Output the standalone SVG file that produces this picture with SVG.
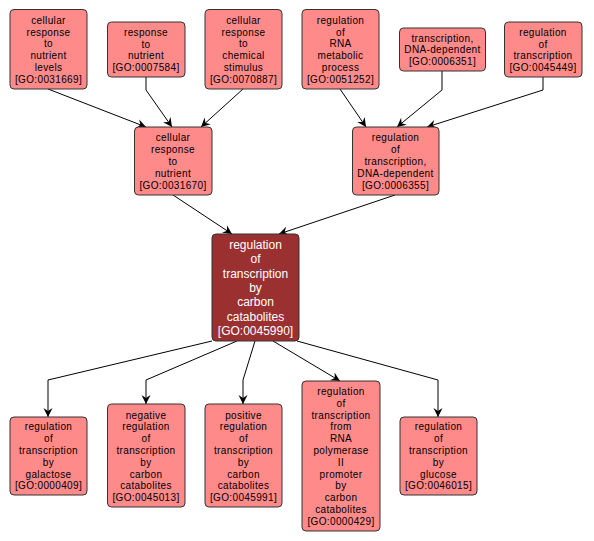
<svg xmlns="http://www.w3.org/2000/svg" width="594" height="541" viewBox="0 0 594 541">
<defs>
<marker id="arr" markerUnits="userSpaceOnUse" markerWidth="12" markerHeight="12" viewBox="-10 -6 12 12" refX="0" refY="0" orient="auto">
<path d="M0,0 L-9,-4.5 L-6,0 L-9,4.5 z" fill="#000"/>
</marker>
<style>
.n rect{fill:#ff8a8a;stroke:#333;stroke-width:1}
.n text{font-family:"Liberation Sans",Arial,sans-serif;font-size:10px;letter-spacing:0.35px;fill:#000;text-anchor:middle}
.c rect{fill:#9b3030;stroke:#333;stroke-width:1}
.c text{font-family:"Liberation Sans",Arial,sans-serif;font-size:12px;fill:#fff;text-anchor:middle}
#edges polyline{fill:none;stroke:#000;stroke-width:1;marker-end:url(#arr)}
</style>
</defs>
<rect width="594" height="541" fill="#fff"/>
<g id="edges">
<polyline points="48,89 146,127"/>
<polyline points="146,77 146,90 172,127"/>
<polyline points="243,89 201,127"/>
<polyline points="340,89 366,127"/>
<polyline points="442,71 442,90 397,127"/>
<polyline points="543,77 543,90 427,127"/>
<polyline points="173,195 232,234"/>
<polyline points="395,195 279,234"/>
<polyline points="212,341 48,380 48,417"/>
<polyline points="237,341 146,380 146,404"/>
<polyline points="255,341 243,380 243,404"/>
<polyline points="273,341 340,381"/>
<polyline points="297,341 438,380 438,417"/>
</g>
<g id="GO0031669" class="n"><rect x="10" y="9.5" width="77" height="79.5" rx="4"/>
<text x="48.5"><tspan x="48.5" y="23.8">cellular</tspan><tspan x="48.5" y="35.6">response</tspan><tspan x="48.5" y="47.4">to</tspan><tspan x="48.5" y="59.2">nutrient</tspan><tspan x="48.5" y="71">levels</tspan><tspan x="48.5" y="82.8">[GO:0031669]</tspan></text></g>
<g id="GO0007584" class="n"><rect x="107.5" y="22" width="77.5" height="55" rx="4"/>
<text><tspan x="146" y="35.7">response</tspan><tspan x="146" y="47.5">to</tspan><tspan x="146" y="59.3">nutrient</tspan><tspan x="146" y="71.1">[GO:0007584]</tspan></text></g>
<g id="GO0070887" class="n"><rect x="205" y="9.5" width="77" height="79.5" rx="4"/>
<text><tspan x="243.5" y="23.8">cellular</tspan><tspan x="243.5" y="35.6">response</tspan><tspan x="243.5" y="47.4">to</tspan><tspan x="243.5" y="59.2">chemical</tspan><tspan x="243.5" y="71">stimulus</tspan><tspan x="243.5" y="82.8">[GO:0070887]</tspan></text></g>
<g id="GO0051252" class="n"><rect x="302" y="9.5" width="77" height="79.5" rx="4"/>
<text><tspan x="340.5" y="23.8">regulation</tspan><tspan x="340.5" y="35.6">of</tspan><tspan x="340.5" y="47.4">RNA</tspan><tspan x="340.5" y="59.2">metabolic</tspan><tspan x="340.5" y="71">process</tspan><tspan x="340.5" y="82.8">[GO:0051252]</tspan></text></g>
<g id="GO0006351" class="n"><rect x="399.5" y="28" width="86" height="43" rx="4"/>
<text><tspan x="442.5" y="41.6">transcription,</tspan><tspan x="442.5" y="53.4">DNA-dependent</tspan><tspan x="442.5" y="65.2">[GO:0006351]</tspan></text></g>
<g id="GO0045449" class="n"><rect x="504.5" y="22" width="77.5" height="55" rx="4"/>
<text><tspan x="543" y="35.7">regulation</tspan><tspan x="543" y="47.5">of</tspan><tspan x="543" y="59.3">transcription</tspan><tspan x="543" y="71.1">[GO:0045449]</tspan></text></g>
<g id="GO0031670" class="n"><rect x="134.5" y="127" width="77.5" height="68" rx="4"/>
<text><tspan x="173" y="141.3">cellular</tspan><tspan x="173" y="153.1">response</tspan><tspan x="173" y="164.9">to</tspan><tspan x="173" y="176.7">nutrient</tspan><tspan x="173" y="188.5">[GO:0031670]</tspan></text></g>
<g id="GO0006355" class="n"><rect x="352.5" y="127" width="86.5" height="68" rx="4"/>
<text><tspan x="395.5" y="141.3">regulation</tspan><tspan x="395.5" y="153.1">of</tspan><tspan x="395.5" y="164.9">transcription,</tspan><tspan x="395.5" y="176.7">DNA-dependent</tspan><tspan x="395.5" y="188.5">[GO:0006355]</tspan></text></g>
<g id="GO0045990" class="c"><rect x="212" y="234" width="87" height="107" rx="4"/>
<text><tspan x="255.5" y="249">regulation</tspan><tspan x="255.5" y="263.3">of</tspan><tspan x="255.5" y="277.6">transcription</tspan><tspan x="255.5" y="291.9">by</tspan><tspan x="255.5" y="306.2">carbon</tspan><tspan x="255.5" y="320.5">catabolites</tspan><tspan x="255.5" y="334.8">[GO:0045990]</tspan></text></g>
<g id="GO0000409" class="n"><rect x="10" y="417" width="77" height="78" rx="4"/>
<text><tspan x="48.5" y="430.4">regulation</tspan><tspan x="48.5" y="442.2">of</tspan><tspan x="48.5" y="454">transcription</tspan><tspan x="48.5" y="465.8">by</tspan><tspan x="48.5" y="477.6">galactose</tspan><tspan x="48.5" y="489.4">[GO:0000409]</tspan></text></g>
<g id="GO0045013" class="n"><rect x="107.5" y="404" width="77.5" height="103" rx="4"/>
<text><tspan x="146" y="418.6">negative</tspan><tspan x="146" y="430.4">regulation</tspan><tspan x="146" y="442.2">of</tspan><tspan x="146" y="454">transcription</tspan><tspan x="146" y="465.8">by</tspan><tspan x="146" y="477.6">carbon</tspan><tspan x="146" y="489.4">catabolites</tspan><tspan x="146" y="501.2">[GO:0045013]</tspan></text></g>
<g id="GO0045991" class="n"><rect x="205" y="404" width="77" height="103" rx="4"/>
<text><tspan x="243.5" y="418.6">positive</tspan><tspan x="243.5" y="430.4">regulation</tspan><tspan x="243.5" y="442.2">of</tspan><tspan x="243.5" y="454">transcription</tspan><tspan x="243.5" y="465.8">by</tspan><tspan x="243.5" y="477.6">carbon</tspan><tspan x="243.5" y="489.4">catabolites</tspan><tspan x="243.5" y="501.2">[GO:0045991]</tspan></text></g>
<g id="GO0000429" class="n"><rect x="302" y="381" width="78" height="150" rx="4"/>
<text><tspan x="341" y="395">regulation</tspan><tspan x="341" y="406.8">of</tspan><tspan x="341" y="418.6">transcription</tspan><tspan x="341" y="430.4">from</tspan><tspan x="341" y="442.2">RNA</tspan><tspan x="341" y="454">polymerase</tspan><tspan x="341" y="465.8">II</tspan><tspan x="341" y="477.6">promoter</tspan><tspan x="341" y="489.4">by</tspan><tspan x="341" y="501.2">carbon</tspan><tspan x="341" y="513">catabolites</tspan><tspan x="341" y="524.8">[GO:0000429]</tspan></text></g>
<g id="GO0046015" class="n"><rect x="400" y="417" width="77" height="78" rx="4"/>
<text><tspan x="438.5" y="430.4">regulation</tspan><tspan x="438.5" y="442.2">of</tspan><tspan x="438.5" y="454">transcription</tspan><tspan x="438.5" y="465.8">by</tspan><tspan x="438.5" y="477.6">glucose</tspan><tspan x="438.5" y="489.4">[GO:0046015]</tspan></text></g>
</svg>
